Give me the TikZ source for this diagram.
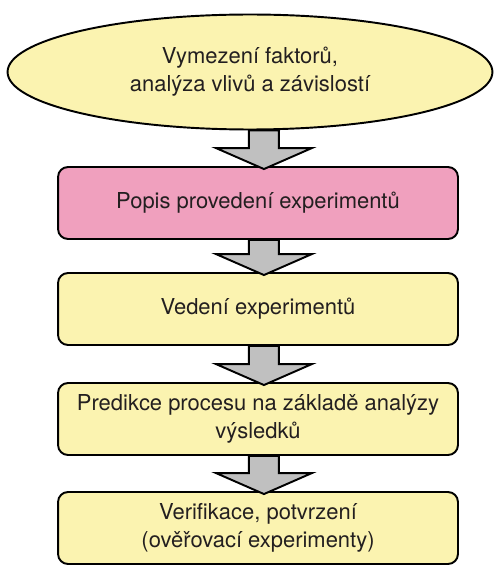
\documentclass[tikz,border=0pt]{standalone}
\usepackage{fontspec}
\setmainfont{TeX Gyre Heros}
\usepackage{xcolor}
\usetikzlibrary{calc}
\usetikzlibrary{shapes.geometric}
\definecolor{myyellow}{RGB}{251,243,176}
\definecolor{mypink}{RGB}{240,160,190}
\definecolor{mygray}{RGB}{192,192,192}
\definecolor{mytext}{RGB}{35,31,32}

% block arrow from one node to the next
\newcommand{\flowarrow}[2]{%
 \draw[garrow] let \p1=(#1.south), \p2=(#2.north) in
  (4.98cm,\y1) -- (4.98cm,{\y2+0.36cm}) -- (4.32cm,{\y2+0.36cm}) -- (5.28cm,{\y2-0.06cm})
  -- (6.24cm,{\y2+0.36cm}) -- (5.58cm,{\y2+0.36cm}) -- (5.58cm,\y1) -- cycle;
}

\begin{document}
\begin{tikzpicture}[x=0.02cm, y=-0.02cm,
 every node/.style={text=mytext, font=\fontsize{12.5}{16}\selectfont, align=center},
 box/.style={draw, line width=1.1pt, rounded corners=0.2cm, fill=myyellow,
  minimum width=8cm, minimum height=1.44cm, inner sep=0pt},
 garrow/.style={draw, line width=1.1pt, fill=mygray, line join=miter}]
\useasboundingbox (0,0) rectangle (501,574);

 %nodes:
 \node[ellipse, draw, line width=1.1pt, fill=myyellow, minimum width=9.7cm, minimum height=2.3cm, inner sep=0pt]
  (factors) at (250,72) {Vymezení faktorů,\\analýza vlivů a závislostí};
 \node[box, fill=mypink] (plan) at (258,203) {Popis provedení experimentů};
 \node[box] (run) at (258,309) {Vedení experimentů};
 \node[box] (predict) at (258,419) {Predikce procesu na základě analýzy\\výsledků};
 \node[box] (verify) at (258,528) {Verifikace, potvrzení\\(ověřovací experimenty)};

 %arrows:
 \flowarrow{factors}{plan}
 \flowarrow{plan}{run}
 \flowarrow{run}{predict}
 \flowarrow{predict}{verify}
\end{tikzpicture}
\end{document}
